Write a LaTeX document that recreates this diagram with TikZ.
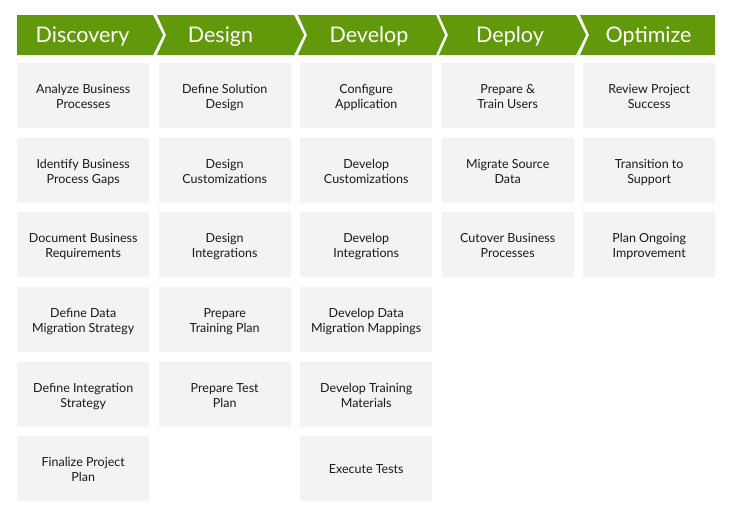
\documentclass[tikz,border=0pt]{standalone}
\usepackage{fontspec}
\setmainfont{Lato}
\usepackage{xcolor}
\usetikzlibrary{matrix}
\definecolor{phasegreen}{RGB}{97,153,10}
\definecolor{taskgray}{RGB}{244,243,244}
\definecolor{tasktext}{RGB}{25,25,25}
\newcommand{\twoline}[2]{\begin{tabular}{@{}c@{}}\rule{0pt}{15.5pt}#1\\#2\end{tabular}}

\begin{document}
\begin{tikzpicture}[x=1pt, y=-1pt,
      phase/.style={fill=phasegreen},
      phasetext/.style={text=white, inner sep=0pt, anchor=base,
        font=\fontsize{21.5}{24}\selectfont},
      task/.style={fill=taskgray, text=tasktext, anchor=center,
        minimum width=132pt, minimum height=65pt, inner sep=2pt,
        font=\fontsize{12.5}{15}\selectfont}]
      \useasboundingbox (0,0) rectangle (733,515);
      % phase headers
      \foreach \lx/\ld/\rx/\rd/\tx/\txt [count=\i] in
        {17/0/153/10/82.5/Discovery, 157/9/294/10/220.5/Design,
         298/9/436/9/369/Develop, 439/9/576/10/510/Deploy,
         580/9/715/0/648.5/Optimize}{
        \fill[phase] (\lx,15) -- (\rx,15) -- (\rx+\rd,35) -- (\rx,55)
          -- (\lx,55) -- (\lx+\ld,35) -- cycle;
        \node[phasetext] (h\i) at (\tx,42.5) {\txt};
      }
      % tasks
      \matrix (M) at (17,63) [matrix of nodes, nodes={task},
      inner sep=0pt, anchor=north west,
      column sep={141.5pt,between origins},
      row sep={74.6pt,between origins}
      ]{
        \twoline{Analyze Business}{Processes}     & \twoline{Define Solution}{Design} & \twoline{Configure}{Application}           & \twoline{Prepare \&}{Train Users}     & \twoline{Review Project}{Success}   \\
        \twoline{Identify Business}{Process Gaps} & \twoline{Design}{Customizations}  & \twoline{Develop}{Customizations}          & \twoline{Migrate Source}{Data}        & \twoline{Transition to}{Support}    \\
        \twoline{Document Business}{Requirements} & \twoline{Design}{Integrations}    & \twoline{Develop}{Integrations}            & \twoline{Cutover Business}{Processes} & \twoline{Plan Ongoing}{Improvement} \\
        \twoline{Define Data}{Migration Strategy} & \twoline{Prepare}{Training Plan}  & \twoline{Develop Data}{Migration Mappings} &                                       &                                     \\
        \twoline{Define Integration}{Strategy}    & \twoline{Prepare Test}{Plan}      & \twoline{Develop Training}{Materials}      &                                       &                                     \\
        \twoline{Finalize Project}{Plan}          &                                   & Execute Tests                              &                                       &                                     \\
      };
    \end{tikzpicture}
\end{document}
